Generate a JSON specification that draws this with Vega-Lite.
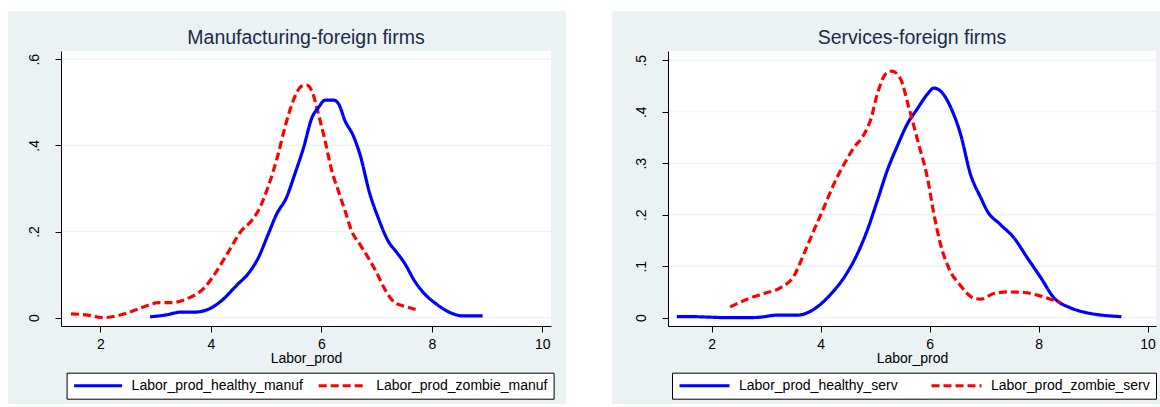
{
  "$schema": "https://vega.github.io/schema/vega-lite/v6.json",
  "background": "white",
  "padding": {"left": 8, "top": 10, "right": 0, "bottom": 4},
  "autosize": {"type": "pad"},
  "spacing": 46,
  "datasets": {
    "manuf": [
      {"series": "Labor_prod_zombie_manuf", "x": 1.47, "y": 0.009},
      {"series": "Labor_prod_zombie_manuf", "x": 1.78, "y": 0.006},
      {"series": "Labor_prod_zombie_manuf", "x": 2.05, "y": 0.000},
      {"series": "Labor_prod_zombie_manuf", "x": 2.29, "y": 0.004},
      {"series": "Labor_prod_zombie_manuf", "x": 2.62, "y": 0.017},
      {"series": "Labor_prod_zombie_manuf", "x": 2.83, "y": 0.027},
      {"series": "Labor_prod_zombie_manuf", "x": 3.05, "y": 0.035},
      {"series": "Labor_prod_zombie_manuf", "x": 3.29, "y": 0.035},
      {"series": "Labor_prod_zombie_manuf", "x": 3.59, "y": 0.045},
      {"series": "Labor_prod_zombie_manuf", "x": 3.89, "y": 0.070},
      {"series": "Labor_prod_zombie_manuf", "x": 4.07, "y": 0.101},
      {"series": "Labor_prod_zombie_manuf", "x": 4.31, "y": 0.151},
      {"series": "Labor_prod_zombie_manuf", "x": 4.55, "y": 0.201},
      {"series": "Labor_prod_zombie_manuf", "x": 4.73, "y": 0.224},
      {"series": "Labor_prod_zombie_manuf", "x": 4.86, "y": 0.248},
      {"series": "Labor_prod_zombie_manuf", "x": 5.04, "y": 0.305},
      {"series": "Labor_prod_zombie_manuf", "x": 5.20, "y": 0.370},
      {"series": "Labor_prod_zombie_manuf", "x": 5.34, "y": 0.441},
      {"series": "Labor_prod_zombie_manuf", "x": 5.49, "y": 0.503},
      {"series": "Labor_prod_zombie_manuf", "x": 5.65, "y": 0.538},
      {"series": "Labor_prod_zombie_manuf", "x": 5.74, "y": 0.540},
      {"series": "Labor_prod_zombie_manuf", "x": 5.83, "y": 0.526},
      {"series": "Labor_prod_zombie_manuf", "x": 5.95, "y": 0.472},
      {"series": "Labor_prod_zombie_manuf", "x": 6.07, "y": 0.410},
      {"series": "Labor_prod_zombie_manuf", "x": 6.19, "y": 0.341},
      {"series": "Labor_prod_zombie_manuf", "x": 6.31, "y": 0.294},
      {"series": "Labor_prod_zombie_manuf", "x": 6.43, "y": 0.248},
      {"series": "Labor_prod_zombie_manuf", "x": 6.55, "y": 0.201},
      {"series": "Labor_prod_zombie_manuf", "x": 6.70, "y": 0.170},
      {"series": "Labor_prod_zombie_manuf", "x": 6.85, "y": 0.139},
      {"series": "Labor_prod_zombie_manuf", "x": 7.00, "y": 0.105},
      {"series": "Labor_prod_zombie_manuf", "x": 7.15, "y": 0.066},
      {"series": "Labor_prod_zombie_manuf", "x": 7.33, "y": 0.035},
      {"series": "Labor_prod_zombie_manuf", "x": 7.55, "y": 0.025},
      {"series": "Labor_prod_zombie_manuf", "x": 7.76, "y": 0.017},
      {"series": "Labor_prod_healthy_manuf", "x": 2.90, "y": 0.002},
      {"series": "Labor_prod_healthy_manuf", "x": 3.17, "y": 0.006},
      {"series": "Labor_prod_healthy_manuf", "x": 3.47, "y": 0.013},
      {"series": "Labor_prod_healthy_manuf", "x": 3.71, "y": 0.013},
      {"series": "Labor_prod_healthy_manuf", "x": 3.98, "y": 0.021},
      {"series": "Labor_prod_healthy_manuf", "x": 4.19, "y": 0.039},
      {"series": "Labor_prod_healthy_manuf", "x": 4.49, "y": 0.078},
      {"series": "Labor_prod_healthy_manuf", "x": 4.67, "y": 0.101},
      {"series": "Labor_prod_healthy_manuf", "x": 4.86, "y": 0.139},
      {"series": "Labor_prod_healthy_manuf", "x": 5.04, "y": 0.194},
      {"series": "Labor_prod_healthy_manuf", "x": 5.19, "y": 0.240},
      {"series": "Labor_prod_healthy_manuf", "x": 5.37, "y": 0.279},
      {"series": "Labor_prod_healthy_manuf", "x": 5.52, "y": 0.333},
      {"series": "Labor_prod_healthy_manuf", "x": 5.68, "y": 0.395},
      {"series": "Labor_prod_healthy_manuf", "x": 5.83, "y": 0.464},
      {"series": "Labor_prod_healthy_manuf", "x": 5.95, "y": 0.488},
      {"series": "Labor_prod_healthy_manuf", "x": 6.07, "y": 0.505},
      {"series": "Labor_prod_healthy_manuf", "x": 6.22, "y": 0.505},
      {"series": "Labor_prod_healthy_manuf", "x": 6.31, "y": 0.497},
      {"series": "Labor_prod_healthy_manuf", "x": 6.43, "y": 0.457},
      {"series": "Labor_prod_healthy_manuf", "x": 6.58, "y": 0.422},
      {"series": "Labor_prod_healthy_manuf", "x": 6.70, "y": 0.379},
      {"series": "Labor_prod_healthy_manuf", "x": 6.88, "y": 0.287},
      {"series": "Labor_prod_healthy_manuf", "x": 7.03, "y": 0.232},
      {"series": "Labor_prod_healthy_manuf", "x": 7.21, "y": 0.178},
      {"series": "Labor_prod_healthy_manuf", "x": 7.37, "y": 0.151},
      {"series": "Labor_prod_healthy_manuf", "x": 7.52, "y": 0.124},
      {"series": "Labor_prod_healthy_manuf", "x": 7.67, "y": 0.089},
      {"series": "Labor_prod_healthy_manuf", "x": 7.85, "y": 0.058},
      {"series": "Labor_prod_healthy_manuf", "x": 8.09, "y": 0.031},
      {"series": "Labor_prod_healthy_manuf", "x": 8.33, "y": 0.012},
      {"series": "Labor_prod_healthy_manuf", "x": 8.57, "y": 0.004},
      {"series": "Labor_prod_healthy_manuf", "x": 8.92, "y": 0.004}
    ],
    "serv": [
      {"series": "Labor_prod_healthy_serv", "x": 1.36, "y": 0.002},
      {"series": "Labor_prod_healthy_serv", "x": 1.67, "y": 0.002},
      {"series": "Labor_prod_healthy_serv", "x": 1.98, "y": 0.001},
      {"series": "Labor_prod_healthy_serv", "x": 2.28, "y": 0.000},
      {"series": "Labor_prod_healthy_serv", "x": 2.65, "y": 0.000},
      {"series": "Labor_prod_healthy_serv", "x": 2.89, "y": 0.001},
      {"series": "Labor_prod_healthy_serv", "x": 3.20, "y": 0.005},
      {"series": "Labor_prod_healthy_serv", "x": 3.57, "y": 0.005},
      {"series": "Labor_prod_healthy_serv", "x": 3.87, "y": 0.016},
      {"series": "Labor_prod_healthy_serv", "x": 4.18, "y": 0.045},
      {"series": "Labor_prod_healthy_serv", "x": 4.43, "y": 0.078},
      {"series": "Labor_prod_healthy_serv", "x": 4.67, "y": 0.123},
      {"series": "Labor_prod_healthy_serv", "x": 4.85, "y": 0.168},
      {"series": "Labor_prod_healthy_serv", "x": 5.04, "y": 0.227},
      {"series": "Labor_prod_healthy_serv", "x": 5.22, "y": 0.285},
      {"series": "Labor_prod_healthy_serv", "x": 5.41, "y": 0.334},
      {"series": "Labor_prod_healthy_serv", "x": 5.59, "y": 0.376},
      {"series": "Labor_prod_healthy_serv", "x": 5.77, "y": 0.405},
      {"series": "Labor_prod_healthy_serv", "x": 5.96, "y": 0.434},
      {"series": "Labor_prod_healthy_serv", "x": 6.08, "y": 0.446},
      {"series": "Labor_prod_healthy_serv", "x": 6.23, "y": 0.437},
      {"series": "Labor_prod_healthy_serv", "x": 6.39, "y": 0.408},
      {"series": "Labor_prod_healthy_serv", "x": 6.57, "y": 0.356},
      {"series": "Labor_prod_healthy_serv", "x": 6.75, "y": 0.279},
      {"series": "Labor_prod_healthy_serv", "x": 6.94, "y": 0.233},
      {"series": "Labor_prod_healthy_serv", "x": 7.06, "y": 0.207},
      {"series": "Labor_prod_healthy_serv", "x": 7.30, "y": 0.181},
      {"series": "Labor_prod_healthy_serv", "x": 7.55, "y": 0.155},
      {"series": "Labor_prod_healthy_serv", "x": 7.79, "y": 0.117},
      {"series": "Labor_prod_healthy_serv", "x": 8.04, "y": 0.078},
      {"series": "Labor_prod_healthy_serv", "x": 8.28, "y": 0.039},
      {"series": "Labor_prod_healthy_serv", "x": 8.59, "y": 0.019},
      {"series": "Labor_prod_healthy_serv", "x": 8.83, "y": 0.011},
      {"series": "Labor_prod_healthy_serv", "x": 9.52, "y": 0.002},
      {"series": "Labor_prod_zombie_serv", "x": 2.34, "y": 0.021},
      {"series": "Labor_prod_zombie_serv", "x": 2.65, "y": 0.036},
      {"series": "Labor_prod_zombie_serv", "x": 2.96, "y": 0.047},
      {"series": "Labor_prod_zombie_serv", "x": 3.26, "y": 0.058},
      {"series": "Labor_prod_zombie_serv", "x": 3.51, "y": 0.081},
      {"series": "Labor_prod_zombie_serv", "x": 3.69, "y": 0.123},
      {"series": "Labor_prod_zombie_serv", "x": 3.87, "y": 0.168},
      {"series": "Labor_prod_zombie_serv", "x": 4.06, "y": 0.214},
      {"series": "Labor_prod_zombie_serv", "x": 4.24, "y": 0.259},
      {"series": "Labor_prod_zombie_serv", "x": 4.43, "y": 0.298},
      {"series": "Labor_prod_zombie_serv", "x": 4.61, "y": 0.330},
      {"series": "Labor_prod_zombie_serv", "x": 4.79, "y": 0.355},
      {"series": "Labor_prod_zombie_serv", "x": 4.92, "y": 0.385},
      {"series": "Labor_prod_zombie_serv", "x": 5.04, "y": 0.434},
      {"series": "Labor_prod_zombie_serv", "x": 5.19, "y": 0.473},
      {"series": "Labor_prod_zombie_serv", "x": 5.31, "y": 0.479},
      {"series": "Labor_prod_zombie_serv", "x": 5.47, "y": 0.463},
      {"series": "Labor_prod_zombie_serv", "x": 5.62, "y": 0.408},
      {"series": "Labor_prod_zombie_serv", "x": 5.80, "y": 0.337},
      {"series": "Labor_prod_zombie_serv", "x": 5.96, "y": 0.272},
      {"series": "Labor_prod_zombie_serv", "x": 6.08, "y": 0.201},
      {"series": "Labor_prod_zombie_serv", "x": 6.20, "y": 0.143},
      {"series": "Labor_prod_zombie_serv", "x": 6.35, "y": 0.097},
      {"series": "Labor_prod_zombie_serv", "x": 6.57, "y": 0.062},
      {"series": "Labor_prod_zombie_serv", "x": 6.81, "y": 0.038},
      {"series": "Labor_prod_zombie_serv", "x": 6.94, "y": 0.036},
      {"series": "Labor_prod_zombie_serv", "x": 7.18, "y": 0.047},
      {"series": "Labor_prod_zombie_serv", "x": 7.43, "y": 0.050},
      {"series": "Labor_prod_zombie_serv", "x": 7.73, "y": 0.049},
      {"series": "Labor_prod_zombie_serv", "x": 8.04, "y": 0.042},
      {"series": "Labor_prod_zombie_serv", "x": 8.41, "y": 0.029}
    ],
    "gridManuf": [{"y": 0}, {"y": 0.2}, {"y": 0.4}, {"y": 0.6}],
    "gridServ": [{"y": 0}, {"y": 0.1}, {"y": 0.2}, {"y": 0.3}, {"y": 0.4}, {"y": 0.5}]
  },
  "hconcat": [
    {
      "width": 490,
      "height": 275,
      "title": {"text": "Manufacturing-foreign firms", "frame": "group", "anchor": "middle", "offset": -38},
      "layer": [
        {
          "data": {"values": [{}]},
          "mark": {"type": "rect", "fill": "#EAF2F3", "clip": false},
          "encoding": {
            "x": {"datum": 0.330, "type": "quantitative", "scale": {"domain": [1.289, 10.158], "nice": false, "zero": false}, "title": "Labor_prod"},
            "x2": {"datum": 10.429},
            "y": {"datum": 0.7121, "type": "quantitative", "scale": {"domain": [-0.0193, 0.619], "nice": false, "zero": false}, "title": null},
            "y2": {"datum": -0.2004}
          }
        },
        {
          "data": {"values": [{}]},
          "mark": {"type": "rect", "fill": "white"},
          "encoding": {
            "x": {"datum": 1.289, "type": "quantitative", "title": "Labor_prod"},
            "x2": {"datum": 10.158},
            "y": {"datum": -0.0193, "type": "quantitative", "title": null},
            "y2": {"datum": 0.619}
          }
        },
        {
          "data": {"name": "gridManuf"},
          "mark": {"type": "rule", "color": "#EAF2F3", "strokeWidth": 1.2},
          "encoding": {
            "y": {"field": "y", "type": "quantitative", "title": null}
          }
        },
        {
          "data": {"name": "manuf"},
          "mark": {"type": "line", "strokeWidth": 3.2, "strokeCap": "butt", "interpolate": "monotone"},
          "encoding": {
            "x": {"field": "x", "type": "quantitative", "title": "Labor_prod",
                  "axis": {"zindex": 1, "values": [2, 4, 6, 8, 10], "format": "d"}},
            "y": {"field": "y", "type": "quantitative", "title": null,
                  "axis": {"zindex": 1, "values": [0, 0.2, 0.4, 0.6], "labelAngle": 270, "labelAlign": "center", "labelBaseline": "alphabetic", "labelPadding": 17,
                           "labelExpr": "datum.value == 0 ? '0' : replace(format(datum.value, '.1f'), '0.', '.')"}},
            "color": {"field": "series", "type": "nominal", "title": null,
                      "scale": {"domain": ["Labor_prod_healthy_manuf", "Labor_prod_zombie_manuf"], "range": ["#0000FF", "#FF0000"]},
                      "legend": {"orient": "none", "legendX": 5.6, "legendY": 321.7, "direction": "horizontal", "columnPadding": 13.6, "symbolSize": 2304}},
            "strokeDash": {"field": "series", "type": "nominal", "title": null,
                      "scale": {"domain": ["Labor_prod_healthy_manuf", "Labor_prod_zombie_manuf"], "range": [[1, 0], [8, 4]]},
                      "legend": {"orient": "none", "legendX": 5.6, "legendY": 321.7, "direction": "horizontal", "columnPadding": 13.6, "symbolSize": 2304}}
          }
        }
      ]
    },
    {
      "width": 488,
      "height": 275,
      "title": {"text": "Services-foreign firms", "frame": "group", "anchor": "middle", "offset": -38},
      "layer": [
        {
          "data": {"values": [{}]},
          "mark": {"type": "rect", "fill": "#EAF2F3", "clip": false},
          "encoding": {
            "x": {"datum": 0.176, "type": "quantitative", "scale": {"domain": [1.199, 10.156], "nice": false, "zero": false}, "title": "Labor_prod"},
            "x2": {"datum": 10.242},
            "y": {"datum": 0.5959, "type": "quantitative", "scale": {"domain": [-0.0161, 0.518], "nice": false, "zero": false}, "title": null},
            "y2": {"datum": -0.1677}
          }
        },
        {
          "data": {"values": [{}]},
          "mark": {"type": "rect", "fill": "white"},
          "encoding": {
            "x": {"datum": 1.199, "type": "quantitative", "title": "Labor_prod"},
            "x2": {"datum": 10.156},
            "y": {"datum": -0.0161, "type": "quantitative", "title": null},
            "y2": {"datum": 0.518}
          }
        },
        {
          "data": {"name": "gridServ"},
          "mark": {"type": "rule", "color": "#EAF2F3", "strokeWidth": 1.2},
          "encoding": {
            "y": {"field": "y", "type": "quantitative", "title": null}
          }
        },
        {
          "data": {"name": "serv"},
          "mark": {"type": "line", "strokeWidth": 3.2, "strokeCap": "butt", "interpolate": "monotone"},
          "encoding": {
            "x": {"field": "x", "type": "quantitative", "title": "Labor_prod",
                  "axis": {"zindex": 1, "values": [2, 4, 6, 8, 10], "format": "d"}},
            "y": {"field": "y", "type": "quantitative", "title": null,
                  "axis": {"zindex": 1, "values": [0, 0.1, 0.2, 0.3, 0.4, 0.5], "labelAngle": 270, "labelAlign": "center", "labelBaseline": "alphabetic", "labelPadding": 17,
                           "labelExpr": "datum.value == 0 ? '0' : replace(format(datum.value, '.1f'), '0.', '.')"}},
            "color": {"field": "series", "type": "nominal", "title": null,
                      "scale": {"domain": ["Labor_prod_healthy_serv", "Labor_prod_zombie_serv"], "range": ["#0000FF", "#FF0000"]},
                      "legend": {"orient": "none", "legendX": 4, "legendY": 321.7, "direction": "horizontal", "columnPadding": 32, "symbolSize": 2500}},
            "strokeDash": {"field": "series", "type": "nominal", "title": null,
                      "scale": {"domain": ["Labor_prod_healthy_serv", "Labor_prod_zombie_serv"], "range": [[1, 0], [8, 4]]},
                      "legend": {"orient": "none", "legendX": 4, "legendY": 321.7, "direction": "horizontal", "columnPadding": 32, "symbolSize": 2500}}
          }
        }
      ]
    }
  ],
  "resolve": {"scale": {"color": "independent", "strokeDash": "independent"}, "legend": {"color": "independent", "strokeDash": "independent"}},
  "config": {
    "font": "Liberation Sans",
    "view": {"stroke": null},
    "title": {"fontSize": 19.5, "font": "Liberation Sans", "fontWeight": "normal", "color": "#1C2A48"},
    "axis": {
      "grid": false,
      "domainColor": "#000000",
      "domainWidth": 1,
      "tickColor": "#000000",
      "tickWidth": 1,
      "tickSize": 6,
      "labelFont": "Liberation Sans",
      "labelFontSize": 14,
      "labelColor": "#000000",
      "labelPadding": 5,
      "labelFlush": false,
      "labelOverlap": false,
      "titleFont": "Liberation Sans",
      "titleFontSize": 14,
      "titleFontWeight": "normal",
      "titleColor": "#000000",
      "titlePadding": 0
    },
    "legend": {
      "fillColor": "white",
      "strokeColor": "#000000",
      "padding": 6,
      "symbolType": "stroke",
      "symbolStrokeWidth": 3,
      "labelFont": "Liberation Sans",
      "labelFontSize": 14,
      "labelColor": "#000000",
      "labelOffset": 8,
      "labelLimit": 400,
      "clipHeight": 14
    }
  }
}
